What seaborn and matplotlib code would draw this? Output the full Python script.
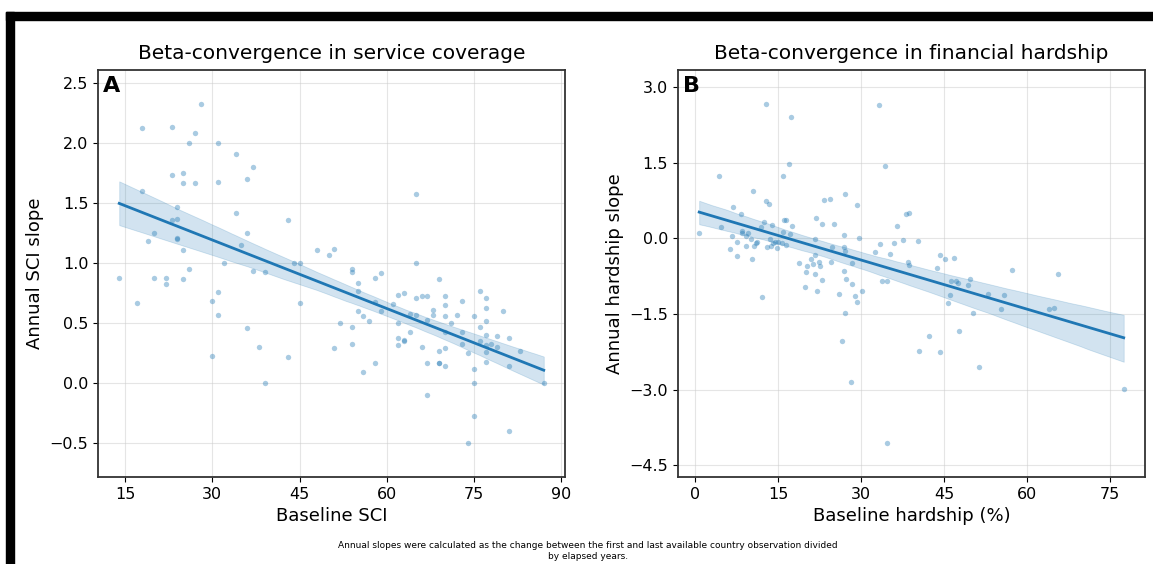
import numpy as np
import pandas as pd
import seaborn as sns
import matplotlib.pyplot as plt
from matplotlib.patches import Rectangle
from matplotlib.ticker import MultipleLocator


# Panel A: baseline service coverage index vs annual slope
sci_base = [14, 17, 18, 18, 19, 20, 20, 22, 22, 23, 23, 23, 24, 24, 24, 24,
            25, 25, 25, 25, 26, 26, 27, 27, 28, 30, 30, 31, 31, 31, 31, 32,
            34, 34, 35, 36, 36, 36, 37, 37, 38, 39, 39, 43, 43, 44, 45, 45,
            48, 50, 51, 51, 52, 54, 54, 54, 54, 55, 55, 55, 56, 56, 57, 58,
            58, 58, 59, 59, 61, 62, 62, 62, 62, 63, 63, 63, 64, 64, 65, 65,
            65, 65, 66, 66, 67, 67, 67, 67, 68, 68, 69, 69, 69, 69, 70, 70,
            70, 70, 70, 70, 71, 72, 73, 73, 73, 74, 74, 75, 75, 75, 75, 76,
            76, 76, 77, 77, 77, 77, 77, 77, 77, 78, 79, 79, 80, 81, 81, 81,
            83, 87]
sci_slope = [0.88, 0.67, 2.13, 1.60, 1.19, 1.25, 0.88, 0.88, 0.83, 2.14, 1.74,
             1.36, 1.47, 1.37, 1.21, 1.20, 1.75, 1.67, 1.11, 0.87, 2.00, 0.95,
             2.09, 1.67, 2.33, 0.69, 0.23, 2.00, 1.68, 0.76, 0.57, 1.00, 1.91,
             1.42, 1.15, 1.70, 1.25, 0.46, 1.80, 0.94, 0.30, 0.93, 0.00, 1.36,
             0.22, 1.00, 1.00, 0.67, 1.11, 1.07, 1.12, 0.29, 0.50, 0.95, 0.93,
             0.47, 0.33, 0.84, 0.77, 0.60, 0.56, 0.09, 0.52, 0.88, 0.68, 0.17,
             0.92, 0.60, 0.66, 0.74, 0.50, 0.38, 0.32, 0.75, 0.36, 0.35, 0.58,
             0.43, 1.58, 1.00, 0.71, 0.57, 0.73, 0.30, 0.73, 0.53, 0.17, -0.10,
             0.61, 0.57, 0.87, 0.27, 0.17, 0.17, 0.73, 0.65, 0.56, 0.43, 0.29,
             0.14, 0.50, 0.57, 0.69, 0.43, 0.33, 0.25, -0.50, 0.56, 0.12, 0.00,
             -0.27, 0.77, 0.47, 0.35, 0.71, 0.63, 0.52, 0.40, 0.32, 0.26, 0.18,
             0.33, 0.39, 0.30, 0.60, 0.38, 0.14, -0.40, 0.27, 0.00]

# Panel B: baseline financial hardship (%) vs annual slope
hard_base = [0.7, 4.2, 4.6, 6.35, 6.6, 6.9, 7.5, 7.5, 8.2, 8.5, 8.5, 9.25,
             9.25, 9.6, 10.0, 10.3, 10.5, 10.6, 11.0, 11.2, 11.9, 12.0, 12.5,
             12.7, 12.8, 12.9, 13.3, 13.5, 13.7, 13.9, 14.1, 14.4, 14.8, 15.0,
             15.6, 15.9, 15.9, 16.0, 16.45, 16.45, 17.0, 17.2, 17.4, 17.5,
             18.8, 19.8, 20.0, 20.2, 20.9, 21.3, 21.7, 21.7, 21.7, 21.9, 22.1,
             22.4, 22.6, 23.0, 23.0, 23.2, 24.4, 24.5, 24.7, 25.0, 26.0, 26.5,
             26.9, 26.9, 26.9, 27.0, 27.0, 27.1, 27.3, 28.2, 28.3, 28.4, 28.9,
             29.3, 29.3, 29.7, 30.15, 32.5, 33.2, 33.5, 33.7, 34.4, 34.7,
             34.7, 35.3, 35.9, 36.5, 37.5, 38.1, 38.4, 38.6, 38.7, 40.2, 40.4,
             42.3, 43.8, 44.3, 44.35, 45.2, 45.7, 46.0, 46.2, 46.8, 47.1, 47.6,
             47.7, 49.4, 49.7, 50.15, 51.3, 52.9, 55.3, 55.8, 57.3, 63.9, 64.8,
             65.6, 77.5]
hard_slope = [0.11, 1.24, 0.23, -0.20, 0.05, 0.63, -0.34, -0.07, 0.48, 0.15,
              0.10, -0.145, 0.05, 0.10, -0.01, -0.41, 0.945, -0.14, -0.08,
              -0.06, 0.23, -1.16, 0.32, 2.67, 0.74, -0.165, 0.69, -0.01, -0.14,
              0.27, -0.09, -0.07, -0.19, -0.07, -0.09, 1.24, 0.13, 0.37, 0.37,
              -0.12, 1.47, 0.08, 2.41, 0.25, -0.48, -0.96, -0.67, -0.555,
              -0.40, -0.50, -0.33, -0.01, -0.71, 0.40, -1.04, -0.46, -0.555,
              0.28, -0.83, 0.77, 0.79, -0.46, -0.17, 0.28, -1.10, -2.04, 0.07,
              -0.17, -0.64, 0.89, -0.25, -1.47, -0.81, -2.85, -0.905, -0.48,
              -1.14, 0.67, -1.26, 0.005, -1.04, -0.26, 2.64, -0.11, -0.84,
              1.43, -0.84, -4.06, -0.31, -0.09, 0.24, -0.03, 0.48, -0.47,
              -0.52, 0.50, -0.05, -2.24, -1.93, -0.58, -0.32, -2.25, -0.41,
              -1.28, -1.12, -0.85, -0.38, -0.85, -0.89, -1.84, -0.93, -0.80,
              -1.48, -2.54, -1.10, -1.40, -1.12, -0.63, -1.40, -1.37, -0.71,
              -2.98]

df_sci = pd.DataFrame({'base': sci_base, 'slope': sci_slope})
df_hard = pd.DataFrame({'base': hard_base, 'slope': hard_slope})

panels = [
    (df_sci, 'A', 'Beta-convergence in service coverage', 'Baseline SCI',
     'Annual SCI slope', 0.5),
    (df_hard, 'B', 'Beta-convergence in financial hardship',
     'Baseline hardship (%)', 'Annual hardship slope', 1.5),
]

fig = plt.figure(figsize=(11.53, 5.64), dpi=100)
axes = [fig.add_axes([0.085, 0.154, 0.405, 0.722]),
        fig.add_axes([0.588, 0.154, 0.405, 0.722])]

for ax, (d, letter, title, xlab, ylab, ystep) in zip(axes, panels):
    sns.regplot(data=d, x='base', y='slope', ax=ax, color='#1f77b4', seed=0,
                scatter_kws={'s': 15, 'alpha': 0.38, 'linewidths': 0},
                line_kws={'lw': 2})
    # make the CI band a touch stronger, with a faint outline
    band = ax.collections[-1]
    band.set_alpha(0.2)
    band.set_edgecolor('#1f77b4')
    band.set_linewidth(0.6)
    ax.grid(True, color='#cccccc', alpha=0.5, lw=0.8)
    ax.set_axisbelow(True)
    ax.xaxis.set_major_locator(MultipleLocator(15))
    ax.yaxis.set_major_locator(MultipleLocator(ystep))
    lo, hi = d['slope'].min(), d['slope'].max()
    pad = 0.1 * (hi - lo)
    ax.set_ylim(lo - pad, hi + pad)
    ax.set_title(title, fontsize=14.5, pad=8)
    ax.set_xlabel(xlab, fontsize=13)
    ax.set_ylabel(ylab, fontsize=13)
    ax.tick_params(labelsize=11.5)
    for s in ax.spines.values():
        s.set_color('#333333')
        s.set_linewidth(1.3)
    ax.text(0.01, 0.985, letter, transform=ax.transAxes, ha='left', va='top',
            fontsize=16, fontweight='bold')

fig.text(0.51, 0.04, 'Annual slopes were calculated as the change between the '
         'first and last available country observation divided\nby elapsed years.',
         ha='center', va='top', fontsize=6.5, linespacing=1.2)

# black frame strips along the top and left edge
W, H = 1153, 564
fig.patches.append(Rectangle((6 / W, 1 - 20 / H), 1, 8 / H,
                             transform=fig.transFigure, color='black'))
fig.patches.append(Rectangle((6 / W, 0), 8 / W, 1 - 12 / H,
                             transform=fig.transFigure, color='black'))

fig.savefig('out.png', dpi=100)
